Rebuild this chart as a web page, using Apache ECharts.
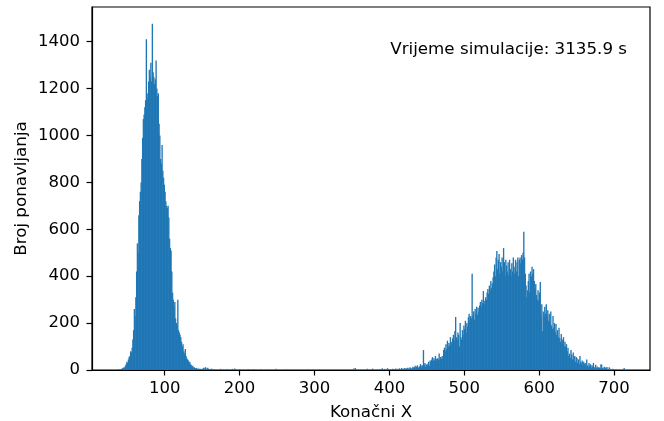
<!DOCTYPE html>
<html><head><meta charset="utf-8">
<script src="https://cdn.jsdelivr.net/npm/echarts@6/dist/echarts.min.js"></script>
<style>html,body{margin:0;padding:0;background:#fff}#c{width:664px;height:421px}</style>
</head><body><div id="c"></div>
<script>
// histogram bins of width 1: [binStart, count]
const binWidth = 1;
const leftStart = 37;
const leftCounts = [
  2,0,3,0,4,3,8,6,12,10,
  18,25,35,30,45,55,60,80,75,95,
  130,170,260,230,310,420,540,500,660,720,
  760,800,900,990,1070,1090,1120,1150,1410,1160,
  1180,1230,1280,1250,1310,1230,1477,1270,1250,1220,
  1240,1320,1200,1170,1180,1050,1000,900,880,960,
  850,820,790,760,720,700,690,700,650,560,
  520,510,420,330,300,270,290,220,200,190,
  300,170,160,150,140,120,100,110,80,70,
  90,60,50,45,40,30,35,25,20,15,
  18,10,12,8,6,9,5,4,6,3,
  5,2,4,3
];
const sparseBins = [
  [151,8],[152,10],[154,12],[155,6],[157,10],[158,5],[160,4],[162,6],[166,3],[174,5],
  [178,3],[183,4],[190,5],[193,6],[200,3],[211,4],[218,3],[228,3],[236,2],[248,5],
  [262,3],[290,2],[352,6],[354,8],[370,5],[377,6],[387,4],[390,7],[393,5],[397,8]
];
const rightStart = 400;
const rightCounts = [
  0,3,0,0,5,0,4,0,6,0,
  0,5,0,7,4,0,8,5,0,6,
  9,4,7,0,10,6,5,12,8,4,
  10,14,8,12,18,6,15,20,10,12,
  16,25,12,20,18,85,22,30,14,24,
  20,28,35,18,40,32,45,55,38,50,
  42,60,48,40,50,45,70,42,55,48,
  60,50,85,95,80,110,90,125,100,115,
  105,140,120,110,135,150,125,166,226,140,
  130,160,150,100,200,140,130,170,150,190,
  175,210,160,200,185,225,240,210,230,220,
  410,230,250,215,260,240,270,235,265,250,
  275,290,270,300,285,337,280,295,310,300,
  330,345,325,360,340,380,350,370,395,420,
  450,400,480,508,430,470,495,410,460,440,
  480,420,520,460,400,470,445,420,460,405,
  470,430,400,455,420,480,440,410,470,420,
  460,480,400,470,480,455,490,470,500,590,
  480,410,360,310,340,380,410,330,420,400,
  440,410,430,380,350,367,320,300,340,295,
  330,375,230,280,166,250,226,270,240,280,
  230,255,210,240,200,250,190,175,230,180,
  200,160,196,150,170,140,180,135,120,154,
  110,130,140,100,120,98,110,80,95,60,
  70,50,85,65,45,75,40,60,35,55,
  50,30,45,25,60,35,28,40,20,35,
  25,30,15,45,20,12,30,18,25,10,
  20,15,30,12,10,22,8,15,5,12,
  10,6,25,22,8,5,12,14,6,10,
  13,4,0,12,6,3,0,0,5,0,
  0,0,3,0,0,0,0,0,0,0,
  0,0,0,8,0,0
];
const xTicks = [100,200,300,400,500,600,700];
const yTicks = [0,200,400,600,800,1000,1200,1400];
const xRange = [2.9, 748];
const yRange = [0, 1548];
const annotation = 'Vrijeme simulacije: 3135.9 s';
const xName = 'Konačni X';
const yName = 'Broj ponavljanja';

const bins = [];
leftCounts.forEach((v,i)=>{ if(v>0) bins.push([leftStart+i, v]); });
sparseBins.forEach(b=>bins.push(b));
rightCounts.forEach((v,i)=>{ if(v>0) bins.push([rightStart+i, v]); });

const FONT = 'DejaVu Sans';
const plain = v => String(v);
const chart = echarts.init(document.getElementById('c'), null, {renderer:'canvas'});
chart.setOption({
  animation:false,
  backgroundColor:'#fff',
  grid:{left:92,right:14,top:7,bottom:51,show:true,borderColor:'#000',borderWidth:1.2,backgroundColor:'transparent',containLabel:false,outerBoundsMode:'none'},
  xAxis:{
    type:'value', min:xRange[0], max:xRange[1],
    axisLine:{show:true,onZero:false,lineStyle:{color:'#000',width:1.2}},
    axisTick:{show:true,length:5.5,customValues:xTicks,lineStyle:{color:'#000',width:1.2}},
    axisLabel:{customValues:xTicks,formatter:plain,color:'#000',fontSize:16.5,margin:10,fontFamily:FONT},
    splitLine:{show:false},
    name:xName,nameLocation:'middle',nameGap:34,nameMoveOverlap:false,
    nameTextStyle:{color:'#000',fontSize:16.7,fontFamily:FONT}
  },
  yAxis:{
    type:'value', min:yRange[0], max:yRange[1], interval:200,
    axisLine:{show:true,onZero:false,lineStyle:{color:'#000',width:1.2}},
    axisTick:{show:true,length:5.5,customValues:yTicks,lineStyle:{color:'#000',width:1.2}},
    axisLabel:{customValues:yTicks,formatter:plain,color:'#000',fontSize:16.5,margin:12,fontFamily:FONT},
    splitLine:{show:false},
    name:yName,nameLocation:'middle',nameGap:62,nameMoveOverlap:false,
    nameTextStyle:{color:'#000',fontSize:16.7,fontFamily:FONT}
  },
  graphic:[{
    type:'text', right:37, top:41, z:10,
    style:{text:annotation, fill:'#000', font:'16.7px "DejaVu Sans"'}
  }],
  series:[{
    type:'custom',
    data:bins,
    encode:{x:0,y:1},
    renderItem:function(params, api){
      const x0 = api.value(0), v = api.value(1);
      const p0 = api.coord([x0, v]);
      const p1 = api.coord([x0 + binWidth, 0]);
      return {type:'rect', shape:{x:p0[0]-0.3, y:p0[1], width:p1[0]-p0[0]+0.6, height:p1[1]-p0[1]}, style:{fill:'#1f77b4'}};
    }
  }]
});
</script></body></html>
